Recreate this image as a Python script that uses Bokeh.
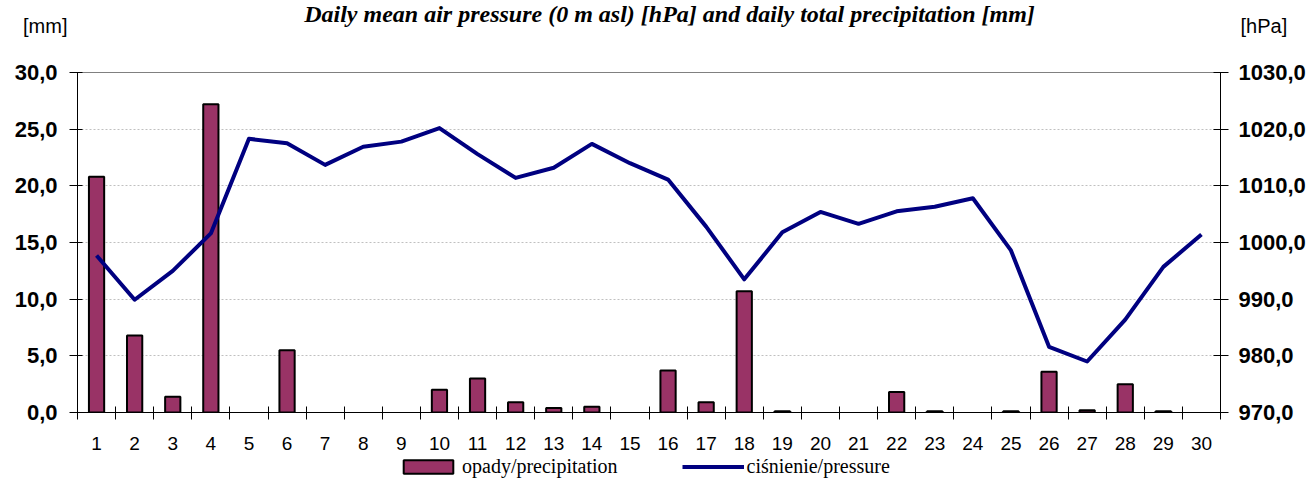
from bokeh.plotting import figure
from bokeh.layouts import column
from bokeh.models import (Range1d, LinearAxis, FixedTicker, CustomJSTickFormatter, Label,
                          Legend, LegendItem, ColumnDataSource, Grid)
from bokeh.embed import file_html
from bokeh.resources import INLINE

# ---- data ----
days = list(range(1, 31))
precipitation = [20.8, 6.8, 1.4, 27.2, 0.0, 5.5, 0.0, 0.0, 0.0, 2.0,
                 3.0, 0.9, 0.4, 0.5, 0.0, 3.7, 0.9, 10.7, 0.1, 0.0,
                 0.0, 1.8, 0.1, 0.0, 0.1, 3.6, 0.2, 2.5, 0.1, 0.0]
pressure = [997.7, 989.9, 995.0, 1001.6, 1018.3, 1017.5, 1013.7, 1016.9, 1017.8, 1020.2,
            1015.6, 1011.4, 1013.2, 1017.4, 1014.0, 1011.1, 1002.8, 993.5, 1001.8, 1005.4,
            1003.3, 1005.5, 1006.3, 1007.8, 998.6, 981.6, 979.0, 986.4, 995.7, 1001.4]
mm_ticks = [0, 5, 10, 15, 20, 25, 30]
hpa_ticks = [970, 980, 990, 1000, 1010, 1020, 1030]
title_text = "Daily mean air pressure (0 m asl) [hPa] and daily total precipitation [mm]"
left_unit = "[mm]"
right_unit = "[hPa]"
bar_label = "opady/precipitation"
line_label = "ciśnienie/pressure"

SANS = "Liberation Sans"
SERIF = "Liberation Serif"
BAR_FILL = "#993366"
LINE_COLOR = "#000080"
W = 1315
TOP_H = 56
MAIN_H = 397
FOOT_H = 479 - TOP_H - MAIN_H
BL, BR = 77, 95          # left / right borders (frame spans x 77..1220)
NAN = float("nan")

# ---- header strip: title + unit labels (units drawn as axis tick labels) ----
head = figure(width=W, height=TOP_H, x_range=Range1d(BL, W - BR), y_range=Range1d(0, TOP_H),
              x_axis_type=None, y_axis_type=None, output_backend="svg",
              toolbar_location=None, min_border_left=BL, min_border_right=BR,
              min_border_top=0, min_border_bottom=0)
head.outline_line_color = None
head.add_layout(Label(x=669, y=TOP_H - 13, text=title_text,
                      text_font=SERIF, text_font_size="24px", text_font_style="bold italic",
                      text_align="center", text_baseline="middle", text_color="black"))
unit_y = TOP_H - 25
hl = LinearAxis(ticker=FixedTicker(ticks=[unit_y]), major_label_overrides={unit_y: left_unit},
                axis_line_color=None, major_tick_line_color=None, minor_tick_line_color=None,
                major_tick_in=0, major_tick_out=0, major_label_standoff=10,
                major_label_text_font=SANS, major_label_text_font_size="20px",
                major_label_text_color="black")
head.add_layout(hl, "left")
hr = LinearAxis(ticker=FixedTicker(ticks=[unit_y]), major_label_overrides={unit_y: right_unit},
                axis_line_color=None, major_tick_line_color=None, minor_tick_line_color=None,
                major_tick_in=0, major_tick_out=0, major_label_standoff=20,
                major_label_text_font=SANS, major_label_text_font_size="20px",
                major_label_text_color="black")
head.add_layout(hr, "right")

# ---- main chart ----
bar_days = [d for d, v in zip(days, precipitation) if v > 0]
bar_vals = [v for v in precipitation if v > 0]
bar_src = ColumnDataSource(dict(x=bar_days, top=bar_vals))
line_src = ColumnDataSource(dict(x=days, y=pressure))

p = figure(width=W, height=MAIN_H,
           x_range=Range1d(0.5, len(days) + 0.5),
           y_range=Range1d(mm_ticks[0], mm_ticks[-1]),
           x_axis_type=None, y_axis_type=None,
           output_backend="svg", toolbar_location=None,
           min_border_left=BL, min_border_right=BR,
           min_border_top=16, min_border_bottom=41)
p.extra_y_ranges = {"p": Range1d(hpa_ticks[0], hpa_ticks[-1])}
p.outline_line_color = "#808080"
p.outline_line_width = 1

fmt = CustomJSTickFormatter(code="return tick.toFixed(1).replace('.', ',');")

grid = Grid(dimension=1, ticker=FixedTicker(ticks=mm_ticks[1:-1]),
            grid_line_color="#c0c0c0", grid_line_dash="2 2", grid_line_width=1)
p.add_layout(grid)

ly = LinearAxis(ticker=FixedTicker(ticks=mm_ticks), formatter=fmt,
                axis_line_color="black", major_tick_line_color="black",
                major_tick_in=5, major_tick_out=8, minor_tick_line_color=None,
                major_label_standoff=12,
                major_label_text_font=SANS, major_label_text_font_size="22px",
                major_label_text_font_style="bold", major_label_text_color="black")
p.add_layout(ly, "left")

ry = LinearAxis(y_range_name="p", ticker=FixedTicker(ticks=hpa_ticks), formatter=fmt,
                axis_line_color="black", major_tick_line_color="black",
                major_tick_in=7, major_tick_out=8, minor_tick_line_color=None,
                major_label_standoff=10,
                major_label_text_font=SANS, major_label_text_font_size="22px",
                major_label_text_font_style="bold", major_label_text_color="black")
p.add_layout(ry, "right")

bounds = [d - 0.5 for d in days] + [days[-1] + 0.5]
bx = LinearAxis(ticker=FixedTicker(ticks=days, minor_ticks=bounds),
                axis_line_color="black",
                major_tick_line_color=None, major_tick_in=0, major_tick_out=0,
                minor_tick_line_color="black", minor_tick_in=6, minor_tick_out=7,
                major_label_standoff=17,
                major_label_text_font=SANS, major_label_text_font_size="19px",
                major_label_text_color="black")
p.add_layout(bx, "below")

p.vbar(x="x", top="top", bottom=0, width=0.4, source=bar_src,
       fill_color=BAR_FILL, line_color="black", line_width=2)
p.line(x="x", y="y", source=line_src, y_range_name="p",
       line_color=LINE_COLOR, line_width=4, line_join="round")

# ---- footer strip with the legend (legend proxies hold no visible data) ----
foot = figure(width=W, height=FOOT_H, x_range=Range1d(0, 1), y_range=Range1d(0, 1),
              x_axis_type=None, y_axis_type=None, output_backend="svg",
              toolbar_location=None, min_border_left=BL, min_border_right=BR,
              min_border_top=0, min_border_bottom=0)
foot.outline_line_color = None
lg_bar = foot.vbar(x=[NAN], top=[NAN], bottom=[NAN], width=0.4, fill_color=BAR_FILL,
                   line_color="black", line_width=2)
lg_line = foot.line(x=[NAN], y=[NAN], line_color=LINE_COLOR, line_width=4)
legend = Legend(items=[LegendItem(label=bar_label, renderers=[lg_bar]),
                       LegendItem(label=line_label, renderers=[lg_line])],
                location=(320, 1), orientation="horizontal",
                glyph_width=62, glyph_height=17, spacing=64, padding=0, margin=0,
                label_standoff=3, border_line_color=None, background_fill_alpha=0,
                label_text_font=SERIF, label_text_font_size="20px",
                label_text_color="black")
foot.add_layout(legend)

layout = column(head, p, foot, spacing=0)
open("out.html", "w").write(file_html(layout, INLINE))
